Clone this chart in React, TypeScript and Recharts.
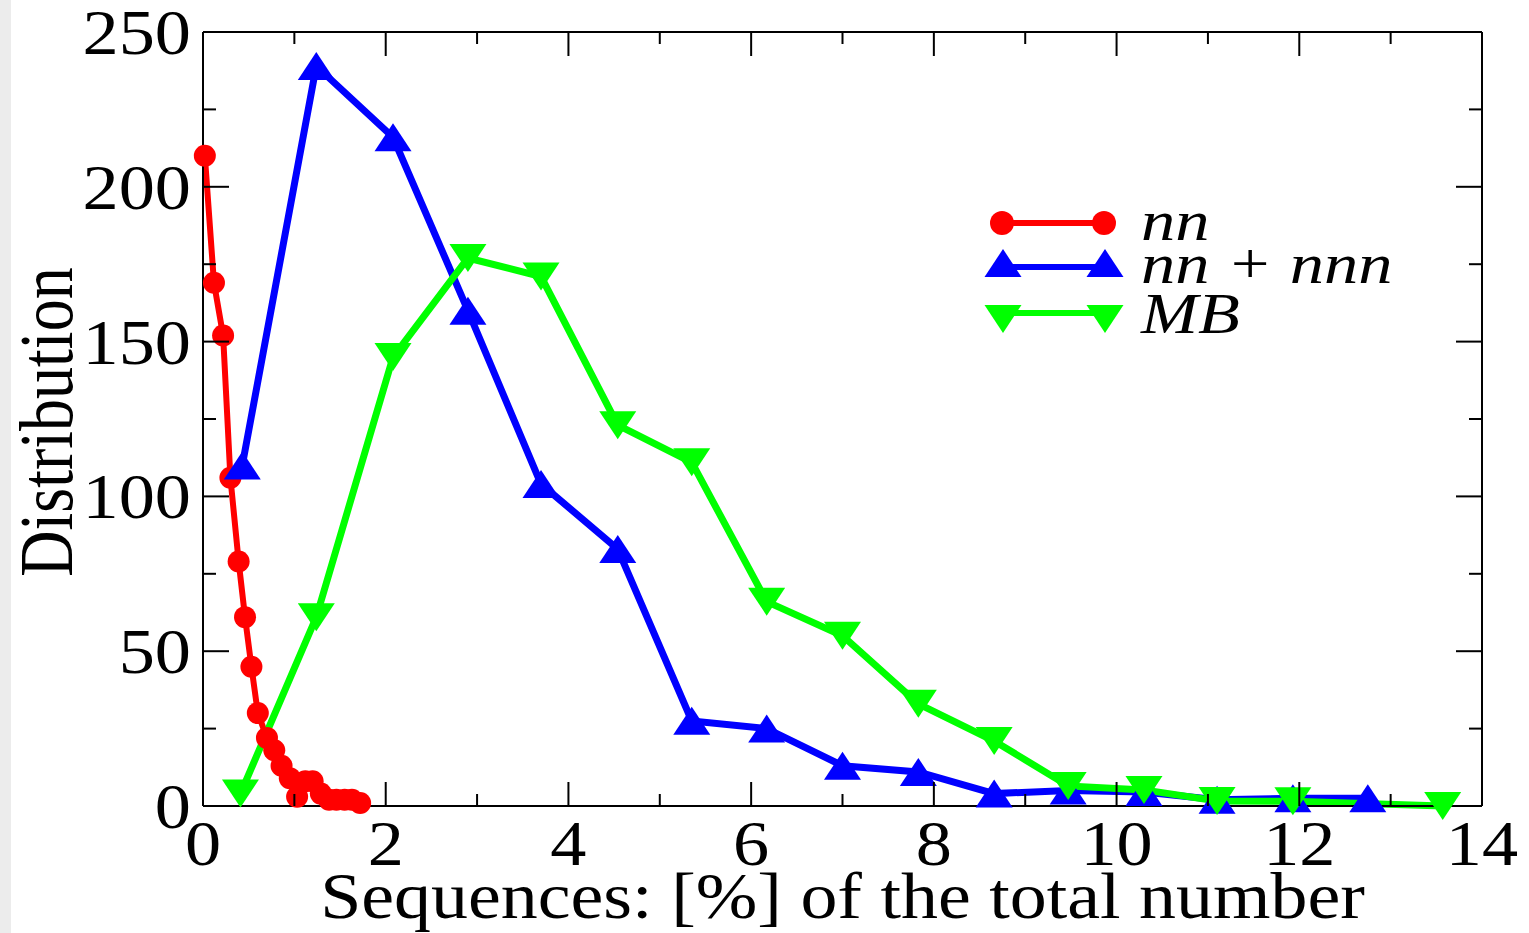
import React from 'react';
import { LineChart, Line, XAxis, YAxis } from 'recharts';

// values
const nnX = [0.02, 0.12, 0.22, 0.3, 0.39, 0.46, 0.53, 0.6, 0.7, 0.78, 0.86, 0.95, 1.03, 1.12, 1.2, 1.29, 1.38, 1.46, 1.55, 1.63, 1.72];
const nnY = [210, 169, 152, 106, 79, 61, 45, 30, 22, 18, 13, 9, 3, 8, 8, 4, 2, 2, 2, 2, 1];

const nnnX = [0.43, 1.24, 2.08, 2.9, 3.7, 4.54, 5.35, 6.17, 7.0, 7.83, 8.66, 9.47, 10.3, 11.1, 11.93, 12.75];
const nnnY = [110, 239, 216, 160, 104, 83, 27.5, 25, 13, 11, 4, 5, 4.5, 2, 2.5, 2.5];

const mbX = [0.41, 1.24, 2.08, 2.9, 3.7, 4.54, 5.35, 6.17, 7.0, 7.83, 8.66, 9.47, 10.3, 11.1, 11.93, 13.57];
const mbY = [4, 61, 145, 177, 171, 123, 111, 66, 55, 33, 21, 6.5, 5.2, 1.6, 1.5, 0];

const xTicks = [0, 1, 2, 3, 4, 5, 6, 7, 8, 9, 10, 11, 12, 13, 14];
const yTicks = [0, 25, 50, 75, 100, 125, 150, 175, 200, 225, 250];

const rows = (xs: number[], ys: number[]) => xs.map((x, i) => ({ x, y: ys[i] }));

const SERIF = '"Liberation Serif", "Times New Roman", serif';
const FS = 64;
const SX = 1.13;

// plot box edges, used for the mirrored ticks on the top and right sides
const W = 1529;
const H = 933;
const M = { top: 32, right: 47, left: 203, bottom: 127 };
const PLOT_TOP = M.top;
const PLOT_RIGHT = W - M.right;

const BottomTick = ({ x, y, payload }: any) => {
  const v = payload.value;
  const major = v % 2 === 0;
  const len = major ? 24 : 12;
  return (
    <g>
      <line x1={x} x2={x} y1={y} y2={y - len} stroke="#000" strokeWidth={2} />
      <line x1={x} x2={x} y1={PLOT_TOP} y2={PLOT_TOP + len} stroke="#000" strokeWidth={2} />
      {major && (
        <text transform={`translate(${x},${y + 59}) scale(${SX},1)`} textAnchor="middle" fontSize={FS} fontFamily={SERIF} fill="#000">
          {v}
        </text>
      )}
    </g>
  );
};

const LeftTick = ({ x, y, payload }: any) => {
  const v = payload.value;
  const major = v % 50 === 0;
  const len = major ? 26 : 13;
  return (
    <g>
      <line x1={x} x2={x + len} y1={y} y2={y} stroke="#000" strokeWidth={2} />
      <line x1={PLOT_RIGHT} x2={PLOT_RIGHT - len} y1={y} y2={y} stroke="#000" strokeWidth={2} />
      {major && (
        <text transform={`translate(${x - 12},${y + 22}) scale(${SX},1)`} textAnchor="end" fontSize={FS} fontFamily={SERIF} fill="#000">
          {v}
        </text>
      )}
    </g>
  );
};

const XLabel = ({ viewBox }: any) => (
  <text
    transform={`translate(${viewBox.x + viewBox.width / 2},${viewBox.y + 112}) scale(1.12,1)`}
    textAnchor="middle"
    fontSize={66}
    fontFamily={SERIF}
    fill="#000"
  >
    Sequences: [%] of the total number
  </text>
);

const YLabel = ({ viewBox }: any) => (
  <text
    transform={`translate(72,${viewBox.y + viewBox.height / 2 + 3}) rotate(-90) scale(1,1.18)`}
    textAnchor="middle"
    fontSize={64}
    fontFamily={SERIF}
    fill="#000"
  >
    Distribution
  </text>
);

const upTri = (cx: number, cy: number) => `M${cx},${cy - 14} L${cx + 18.5},${cy + 14} L${cx - 18.5},${cy + 14} Z`;
const downTri = (cx: number, cy: number) => `M${cx - 18.5},${cy - 14} L${cx + 18.5},${cy - 14} L${cx},${cy + 14} Z`;

const RED = '#ff0000';
const BLUE = '#0000ff';
const GREEN = '#00ff00';

const Legend = () => (
  <svg width={W} height={H} style={{ position: 'absolute', left: 0, top: 0, pointerEvents: 'none' }}>
    <line x1={1002} x2={1104} y1={223} y2={223} stroke={RED} strokeWidth={6} />
    <circle cx={1002} cy={223} r={12} fill={RED} />
    <circle cx={1104} cy={223} r={12} fill={RED} />
    <text transform="translate(1141,240) scale(1.18,1)" fontSize={58} fontStyle="italic" fontFamily={SERIF}>nn</text>

    <line x1={1003} x2={1105} y1={267} y2={267} stroke={BLUE} strokeWidth={6} />
    <path d={upTri(1003, 263)} fill={BLUE} />
    <path d={upTri(1105, 263)} fill={BLUE} />
    <text transform="translate(1141,283) scale(1.18,1)" fontSize={58} fontStyle="italic" fontFamily={SERIF}>nn + nnn</text>

    <line x1={1003} x2={1105} y1={313} y2={313} stroke={GREEN} strokeWidth={6} />
    <path d={downTri(1003, 319)} fill={GREEN} />
    <path d={downTri(1105, 319)} fill={GREEN} />
    <text transform="translate(1141,333) scale(1.18,1)" fontSize={58} fontStyle="italic" fontFamily={SERIF}>MB</text>
  </svg>
);

export default function App() {
  return (
    <div style={{ position: 'absolute', left: 0, top: 0, width: W, height: H, background: '#fff' }}>
      <div style={{ position: 'absolute', left: 0, top: 0, width: 11, height: H, background: '#ececec' }} />
      <LineChart width={W} height={H} margin={{ top: M.top - 1, right: M.right - 1, bottom: 0, left: 0 }}>
        <XAxis
          type="number"
          dataKey="x"
          domain={[0, 14]}
          ticks={xTicks}
          interval={0}
          height={M.bottom}
          tickSize={0}
          tickMargin={0}
          tickLine={false}
          tick={<BottomTick />}
          axisLine={{ stroke: '#000', strokeWidth: 2 }}
          label={(p: any) => <XLabel {...p} />}
        />
        <XAxis
          xAxisId="top"
          orientation="top"
          type="number"
          dataKey="x"
          domain={[0, 14]}
          height={1}
          tick={false}
          tickLine={false}
          axisLine={{ stroke: '#000', strokeWidth: 2 }}
        />
        <YAxis
          type="number"
          domain={[0, 250]}
          ticks={yTicks}
          interval={0}
          width={M.left}
          tickSize={0}
          tickMargin={0}
          tickLine={false}
          tick={<LeftTick />}
          axisLine={{ stroke: '#000', strokeWidth: 2 }}
          label={(p: any) => <YLabel {...p} />}
        />
        <YAxis
          yAxisId="right"
          orientation="right"
          type="number"
          domain={[0, 250]}
          width={1}
          tick={false}
          tickLine={false}
          axisLine={{ stroke: '#000', strokeWidth: 2 }}
        />
        <Line
          data={rows(nnX, nnY)}
          dataKey="y"
          stroke={RED}
          strokeWidth={6}
          isAnimationActive={false}
          activeDot={false}
          dot={(p: any) => <circle key={`nn-${p.index}`} cx={p.cx} cy={p.cy} r={11} fill={RED} />}
        />
        <Line
          data={rows(nnnX, nnnY)}
          dataKey="y"
          stroke={BLUE}
          strokeWidth={7}
          isAnimationActive={false}
          activeDot={false}
          dot={(p: any) => <path key={`nnn-${p.index}`} d={upTri(p.cx, p.cy)} fill={BLUE} />}
        />
        <Line
          data={rows(mbX, mbY)}
          dataKey="y"
          stroke={GREEN}
          strokeWidth={7}
          isAnimationActive={false}
          activeDot={false}
          dot={(p: any) => <path key={`mb-${p.index}`} d={downTri(p.cx, p.cy)} fill={GREEN} />}
        />
      </LineChart>
      <Legend />
    </div>
  );
}
